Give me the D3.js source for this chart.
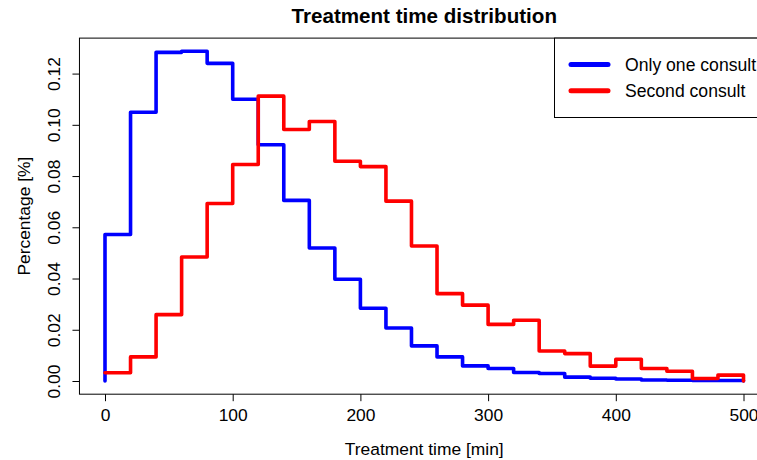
<!DOCTYPE html>
<html>
<head>
<meta charset="utf-8">
<script src="https://cdn.jsdelivr.net/npm/d3@7"></script>
<style>
  body { margin: 0; background: #fff; }
  svg { display: block; font-family: "Liberation Sans", Arial, sans-serif; }
</style>
</head>
<body>
<div class="histchart"></div>
<script>
// bin starts (minutes), 20 min bins
var binStart = [0, 20, 40, 60, 80, 100, 120, 140, 160, 180, 200, 220, 240,
                260, 280, 300, 320, 340, 360, 380, 400, 420, 440, 460, 480];
var binEnd = 500;

var onlyOne = [0.0572, 0.1049, 0.1283, 0.1287, 0.1240, 0.1100, 0.0922, 0.0705,
               0.0519, 0.0397, 0.0284, 0.0207, 0.0137, 0.0094, 0.0059, 0.0049,
               0.0033, 0.0029, 0.0015, 0.0011, 0.0008, 0.0004, 0.0003, 0.0002, 0.0002];
var secondCons = [0.0032, 0.0094, 0.0259, 0.0484, 0.0693, 0.0845, 0.1112, 0.0982,
                  0.1013, 0.0858, 0.0837, 0.0702, 0.0527, 0.0341, 0.0296, 0.0221,
                  0.0237, 0.0117, 0.0107, 0.0058, 0.0085, 0.0049, 0.0038, 0.0010, 0.0023];

var seriesNames = ["Only one consult", "Second consult"];
var seriesColors = ["#0000ff", "#ff0000"];
var startVals = [0, 0.0032];
var endVals = [0, 0];

var xTicks = [0, 100, 200, 300, 400, 500];
var yTicks = [0, 0.02, 0.04, 0.06, 0.08, 0.10, 0.12];

var width = 757, height = 460;

var x = d3.scaleLinear().domain([0, 500]).range([105, 743.5]);
var yMax = d3.max(onlyOne.concat(secondCons));
var y = d3.scaleLinear().domain([0, yMax]).range([381, 51.3]);

// R style 4% padding for the box
var xPad = 0.04 * 500, yPad = 0.04 * yMax;
var boxL = x(-xPad), boxR = x(500 + xPad), boxT = y(yMax + yPad), boxB = y(-yPad);

var svg = d3.select(".histchart").append("svg")
    .attr("width", width)
    .attr("height", height);

function stepPoints(vals, start, end) {
  var pts = [[0, start]];
  vals.forEach(function (v, i) { pts.push([binStart[i], v]); });
  pts.push([binEnd, vals[vals.length - 1]]);
  pts.push([binEnd, end]);
  return pts;
}

var line = d3.line()
  .x(function (d) { return x(d[0]); })
  .y(function (d) { return y(d[1]); })
  .curve(d3.curveStepAfter);

[onlyOne, secondCons].forEach(function (vals, i) {
  svg.append("path")
    .datum(stepPoints(vals, startVals[i], endVals[i]))
    .attr("fill", "none")
    .attr("stroke", seriesColors[i])
    .attr("stroke-width", 3.6)
    .attr("stroke-linejoin", "round")
    .attr("stroke-linecap", "round")
    .attr("d", line);
});

// box
svg.append("rect")
  .attr("x", boxL).attr("y", boxT)
  .attr("width", boxR - boxL).attr("height", boxB - boxT)
  .attr("fill", "none").attr("stroke", "#000").attr("stroke-width", 1);

// x axis
var xAxis = svg.append("g")
  .attr("transform", "translate(0," + boxB + ")")
  .call(d3.axisBottom(x).tickValues(xTicks).tickSize(7).tickSizeOuter(0).tickPadding(0));
xAxis.select(".domain").remove();
xAxis.selectAll(".tick line").attr("stroke", "#000");
xAxis.selectAll(".tick text")
  .attr("y", 27).attr("dy", 0)
  .style("font-size", "17.4px").attr("fill", "#000");

// y axis
var yAxis = svg.append("g")
  .attr("transform", "translate(" + boxL + ",0)")
  .call(d3.axisLeft(y).tickValues(yTicks).tickSize(7).tickSizeOuter(0)
    .tickFormat(d3.format(".2f")));
yAxis.select(".domain").remove();
yAxis.selectAll(".tick line").attr("stroke", "#000");
yAxis.selectAll(".tick text")
  .attr("x", 0).attr("dy", 0).attr("y", 0)
  .attr("transform", "translate(-19.5,0) rotate(-90)")
  .attr("text-anchor", "middle")
  .style("font-size", "17.4px").attr("fill", "#000");

// labels
svg.append("text")
  .attr("x", (boxL + boxR) / 2).attr("y", 23)
  .attr("text-anchor", "middle")
  .style("font-size", "20.6px").style("font-weight", "bold")
  .text("Treatment time distribution");

svg.append("text")
  .attr("x", (boxL + boxR) / 2).attr("y", 455)
  .attr("text-anchor", "middle")
  .style("font-size", "17.4px")
  .text("Treatment time [min]");

svg.append("text")
  .attr("transform", "translate(30," + (boxT + boxB) / 2 + ") rotate(-90)")
  .attr("text-anchor", "middle")
  .style("font-size", "17.4px")
  .text("Percentage [%]");

// legend
var legend = svg.append("g");
legend.append("rect")
  .attr("x", 554.5).attr("y", boxT)
  .attr("width", 260).attr("height", 117.5 - boxT)
  .attr("fill", "#fff").attr("stroke", "#000").attr("stroke-width", 1);

var items = legend.selectAll(".item")
  .data(seriesNames)
  .enter().append("g")
  .attr("transform", function (d, i) { return "translate(0," + (64.5 + i * 26.3) + ")"; });

items.append("line")
  .attr("x1", 571).attr("x2", 608)
  .attr("stroke", function (d, i) { return seriesColors[i]; })
  .attr("stroke-width", 5)
  .attr("stroke-linecap", "round");

items.append("text")
  .attr("x", 625).attr("y", 6)
  .style("font-size", "17.6px")
  .text(function (d) { return d; });
</script>
</body>
</html>
